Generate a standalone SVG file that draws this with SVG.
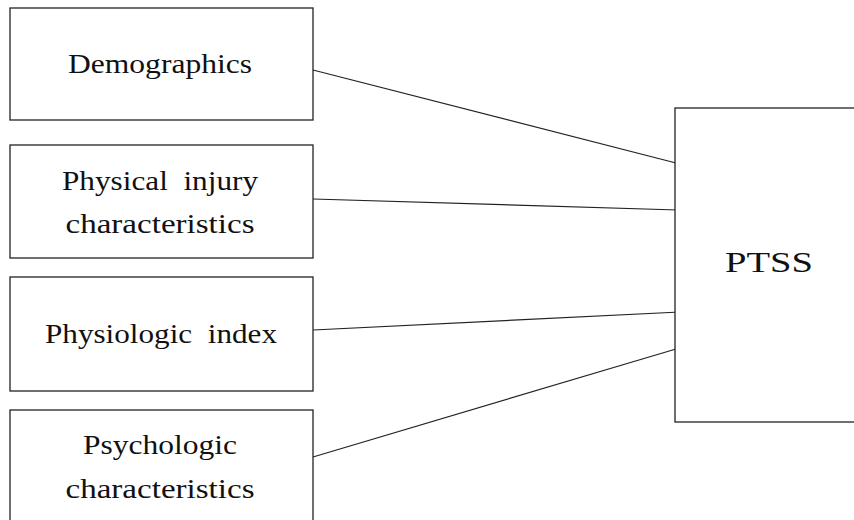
<svg xmlns="http://www.w3.org/2000/svg" width="854" height="520" viewBox="0 0 854 520">
<style>
.box{fill:#fff;stroke:#222;stroke-width:1.3}
.lbl{font-family:"Liberation Serif","DejaVu Serif",serif;font-size:28px;fill:#111;text-anchor:middle}
.big{font-size:29px}
.conn line{stroke:#222;stroke-width:1.2}
</style>
<rect width="854" height="520" fill="#fff"/>
<g class="conn">
<line x1="313" y1="70" x2="676" y2="163"/>
<line x1="313" y1="199" x2="678" y2="210"/>
<line x1="313" y1="330" x2="680" y2="312"/>
<line x1="313" y1="457" x2="676" y2="349"/>
</g>
<g id="demographics">
<rect class="box" x="10" y="8" width="303" height="112"/>
<text class="lbl" x="160" y="73" textLength="184" lengthAdjust="spacingAndGlyphs">Demographics</text>
</g>
<g id="physical">
<rect class="box" x="10" y="145" width="303" height="113"/>
<text class="lbl" x="160" y="190" textLength="196" lengthAdjust="spacingAndGlyphs" xml:space="preserve">Physical  injury</text>
<text class="lbl" x="160" y="233" textLength="189" lengthAdjust="spacingAndGlyphs">characteristics</text>
</g>
<g id="physiologic">
<rect class="box" x="10" y="277" width="303" height="114"/>
<text class="lbl" x="161" y="343" textLength="232" lengthAdjust="spacingAndGlyphs" xml:space="preserve">Physiologic  index</text>
</g>
<g id="psychologic">
<rect class="box" x="10" y="410" width="303" height="120"/>
<text class="lbl" x="160" y="454" textLength="154" lengthAdjust="spacingAndGlyphs">Psychologic</text>
<text class="lbl" x="160" y="498" textLength="189" lengthAdjust="spacingAndGlyphs">characteristics</text>
</g>
<g id="ptss">
<rect class="box" x="675" y="108" width="200" height="314"/>
<text class="lbl big" x="769" y="272" textLength="88" lengthAdjust="spacingAndGlyphs">PTSS</text>
</g>
</svg>
